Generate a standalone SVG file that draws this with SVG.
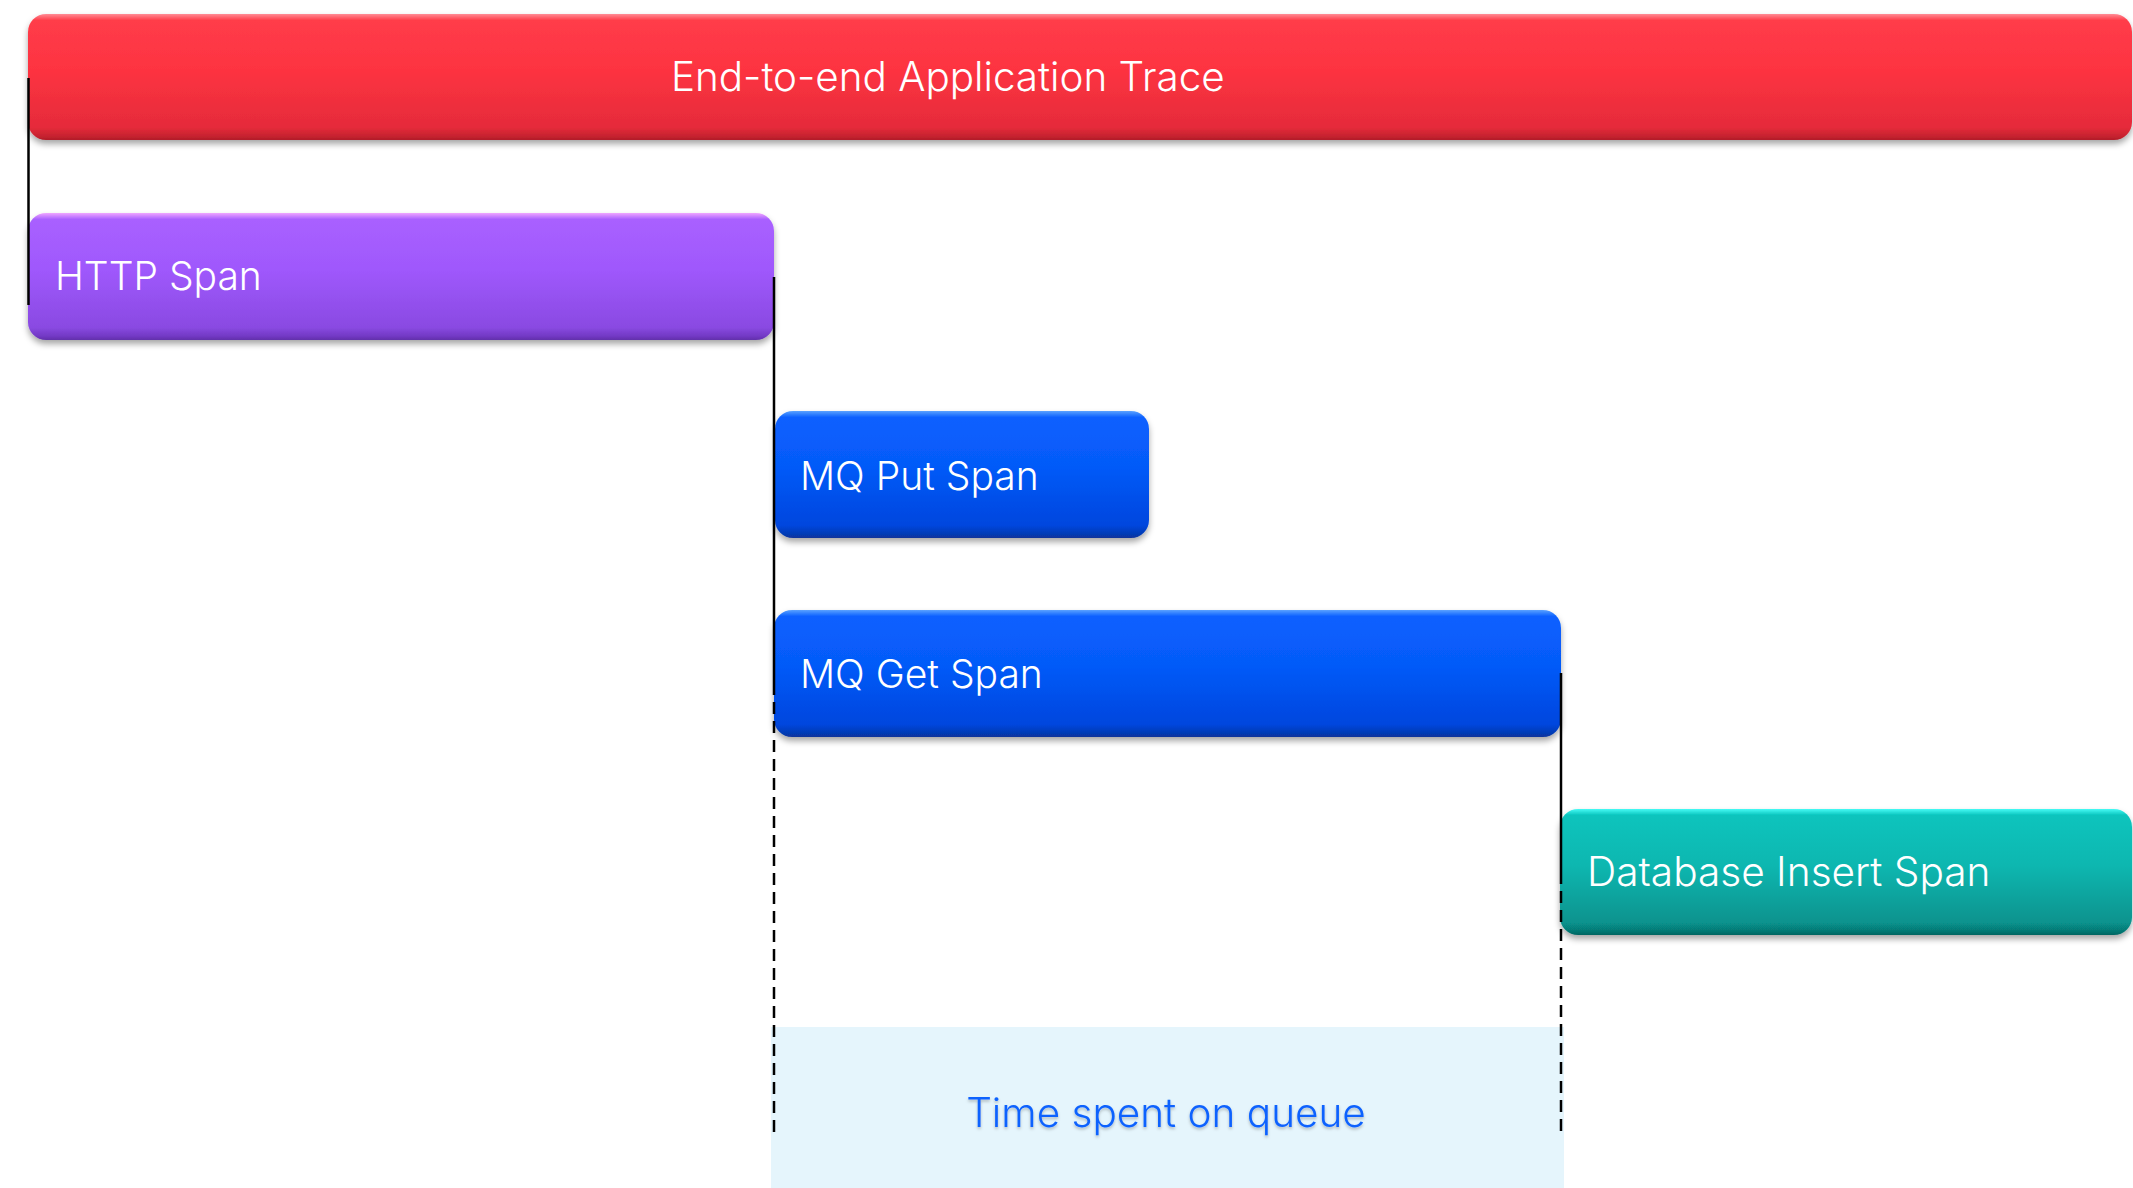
<svg xmlns="http://www.w3.org/2000/svg" width="2133" height="1188" viewBox="0 0 2133 1188">
<style>
.lbl{font-family:Inter,"IBM Plex Sans","Noto Sans",sans-serif;font-weight:300;font-size:39px;fill:#ffffff}
.q{font-family:Inter,"IBM Plex Sans","Noto Sans",sans-serif;font-weight:300;font-size:40.5px;fill:#0f62fe}
.solid{stroke:#000;stroke-width:2.5;fill:none}
.dash{stroke:#000;stroke-width:2.5;fill:none;stroke-dasharray:12 7}
</style>
<defs>
<filter id="sh" x="-5%" y="-20%" width="110%" height="150%">
<feDropShadow dx="0" dy="4" stdDeviation="3" flood-color="#000" flood-opacity="0.35"/>
</filter>
<filter id="tsh" x="-5%" y="-30%" width="110%" height="160%">
<feDropShadow dx="0" dy="2" stdDeviation="1.5" flood-color="#000" flood-opacity="0.25"/>
</filter>
<linearGradient id="gRed" x1="0" y1="0" x2="0" y2="1">
<stop offset="0" stop-color="#ff8c95"/><stop offset="0.05" stop-color="#ff3c49"/><stop offset="0.45" stop-color="#fd3341"/><stop offset="0.9" stop-color="#e52b3a"/><stop offset="0.97" stop-color="#c6222f"/><stop offset="1" stop-color="#b01c28"/>
</linearGradient>
<linearGradient id="gPur" x1="0" y1="0" x2="0" y2="1">
<stop offset="0" stop-color="#f0a6ff"/><stop offset="0.05" stop-color="#a960ff"/><stop offset="0.45" stop-color="#9f58fc"/><stop offset="0.9" stop-color="#8a4ae2"/><stop offset="0.97" stop-color="#7239c4"/><stop offset="1" stop-color="#6230aa"/>
</linearGradient>
<linearGradient id="gBlue" x1="0" y1="0" x2="0" y2="1">
<stop offset="0" stop-color="#5aa2ff"/><stop offset="0.05" stop-color="#0a60ff"/><stop offset="0.45" stop-color="#055af8"/><stop offset="0.9" stop-color="#0546de"/><stop offset="0.97" stop-color="#063bb4"/><stop offset="1" stop-color="#08339a"/>
</linearGradient>
<linearGradient id="gTeal" x1="0" y1="0" x2="0" y2="1">
<stop offset="0" stop-color="#46fbf5"/><stop offset="0.05" stop-color="#09c4bd"/><stop offset="0.45" stop-color="#08b7b0"/><stop offset="0.9" stop-color="#07938e"/><stop offset="0.97" stop-color="#067873"/><stop offset="1" stop-color="#056562"/>
</linearGradient>
</defs>
<rect x="0" y="0" width="2133" height="1188" fill="#ffffff"/>
<g id="queue-region">
<rect x="771" y="1027" width="793" height="161" fill="#e5f5fc"/>
<text class="q" x="1166" y="1127" text-anchor="middle" filter="url(#tsh)">Time spent on queue</text>
</g>
<g id="trace">
<rect x="28" y="14" width="2104" height="126" rx="18" fill="url(#gRed)" filter="url(#sh)"/>
<text class="lbl" x="671" y="91" style="font-size:40.4px">End-to-end Application Trace</text>
</g>
<g id="http">
<rect x="28" y="213" width="746" height="127" rx="18" fill="url(#gPur)" filter="url(#sh)"/>
<text class="lbl" x="55" y="290">HTTP Span</text>
</g>
<g id="mqput">
<rect x="775" y="411" width="374" height="127" rx="18" fill="url(#gBlue)" filter="url(#sh)"/>
<text class="lbl" x="800" y="490">MQ Put Span</text>
</g>
<g id="mqget">
<rect x="774" y="610" width="787" height="127" rx="18" fill="url(#gBlue)" filter="url(#sh)"/>
<text class="lbl" x="800" y="688">MQ Get Span</text>
</g>
<g id="dbinsert">
<rect x="1560" y="809" width="572" height="126" rx="18" fill="url(#gTeal)" filter="url(#sh)"/>
<text class="lbl" x="1587" y="886" style="font-size:40.6px">Database Insert Span</text>
</g>
<g id="connectors">
<line class="solid" x1="28.5" y1="78" x2="28.5" y2="305"/>
<line class="solid" x1="774" y1="277" x2="774" y2="683"/>
<line class="dash" x1="774" y1="683" x2="774" y2="1133"/>
<line class="solid" x1="1561" y1="673" x2="1561" y2="872"/>
<line class="dash" x1="1561" y1="872" x2="1561" y2="1133"/>
</g>
</svg>
